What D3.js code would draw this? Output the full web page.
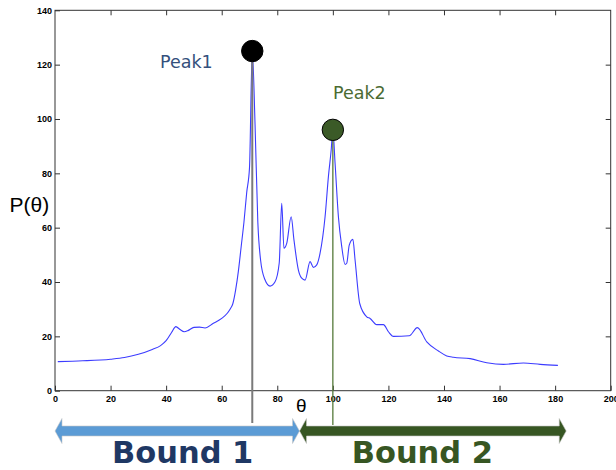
<!DOCTYPE html>
<html>
<head>
<meta charset="utf-8">
<script src="https://cdn.jsdelivr.net/npm/d3@7"></script>
<style>
  html, body { margin: 0; padding: 0; background: #fff; }
  svg { display: block; }
</style>
</head>
<body>
<script>
// Angular distribution P(θ) with its two dominant peaks and their bounds
const theta = [1, 10, 20, 25, 30, 35, 38, 40, 42, 43.5, 45, 46.5, 48, 50, 52, 54, 57, 60, 62, 63, 64, 65, 66, 67, 68, 69, 70, 71, 72, 73, 74, 75.5, 77.4, 79.2, 80.7, 81.6, 82.4, 83.4, 85, 86, 87.6, 88.8, 90, 91.8, 93, 94.2, 95.4, 97.2, 98.4, 99.4, 100, 100.8, 102, 103.2, 104.4, 105, 105.9, 107.2, 108, 109.7, 112.2, 113.4, 115.8, 118.2, 120, 121.8, 127.5, 130.4, 133.8, 138, 141, 143.4, 149.4, 155.4, 161.4, 168.6, 174.6, 181];
const pTheta = [10.7, 11.0, 11.6, 12.2, 13.4, 15.2, 16.6, 18.4, 21.5, 23.6, 22.5, 21.7, 22.2, 23.3, 23.4, 23.1, 24.8, 26.6, 28.5, 30, 32, 37, 44, 53, 62, 73, 82, 125, 98, 62, 48, 41, 38.5, 40.1, 47, 69, 52.4, 54.2, 64, 55.5, 44.4, 41.4, 40.7, 47.5, 45.4, 46.3, 50.6, 64, 78.8, 88.6, 96, 83.7, 64, 53, 46.5, 46.9, 53.6, 55.7, 48.1, 32, 27.2, 26.6, 24.3, 24.3, 21.7, 20, 20.2, 23.2, 18, 14.6, 12.8, 12.3, 11.8, 10.3, 9.7, 10.2, 9.7, 9.3];

const peakNames = ["Peak1", "Peak2"];
const peakTheta = [71, 100];
const peakValue = [125, 96];

const boundNames = ["Bound 1", "Bound 2"];
const boundEdges = [0, 88, 184];

const xTicks = [0, 20, 40, 60, 80, 100, 120, 140, 160, 180, 200];
const yTicks = [0, 20, 40, 60, 80, 100, 120, 140];

const W = 616, H = 470;
const plot = { left: 55, right: 610.7, top: 10.3, bottom: 390.7 };

const svg = d3.select("body").append("svg")
  .attr("width", W).attr("height", H);

const x = d3.scaleLinear().domain([0, 200]).range([plot.left, plot.right]);
const y = d3.scaleLinear().domain([0, 140]).range([plot.bottom, plot.top]);

const tickFont = "'Liberation Sans', Arial, sans-serif";

function styleAxis(g, labels) {
  g.select(".domain").remove();
  g.selectAll(".tick line").attr("stroke", "#333").attr("stroke-width", 1);
  g.selectAll(".tick text")
    .attr("fill", "#000")
    .style("font-family", tickFont)
    .style("font-size", "9px")
    .style("font-weight", "bold");
  if (!labels) g.selectAll(".tick text").remove();
}

// Inward ticks on all four sides
svg.append("g").attr("transform", `translate(0,${plot.bottom})`)
  .call(d3.axisBottom(x).tickValues(xTicks).tickFormat(d3.format("d")).tickSizeInner(-5).tickSizeOuter(0).tickPadding(5))
  .call(g => styleAxis(g, true));
svg.append("g").attr("transform", `translate(0,${plot.top})`)
  .call(d3.axisTop(x).tickValues(xTicks.slice(1, -1)).tickSizeInner(-5).tickSizeOuter(0))
  .call(g => styleAxis(g, false));
svg.append("g").attr("transform", `translate(${plot.left},0)`)
  .call(d3.axisLeft(y).tickValues(yTicks).tickFormat(d3.format("d")).tickSizeInner(-5).tickSizeOuter(0).tickPadding(3))
  .call(g => styleAxis(g, true));
svg.append("g").attr("transform", `translate(${plot.right},0)`)
  .call(d3.axisRight(y).tickValues(yTicks.slice(1, -1)).tickSizeInner(-5).tickSizeOuter(0))
  .call(g => styleAxis(g, false));

// Plot frame
svg.append("rect")
  .attr("x", plot.left).attr("y", plot.top)
  .attr("width", plot.right - plot.left).attr("height", plot.bottom - plot.top)
  .attr("fill", "none").attr("stroke", "#333").attr("stroke-width", 1);

// Distribution curve
const series = theta.map((t, i) => [t, pTheta[i]]);
svg.append("path")
  .datum(series)
  .attr("fill", "none")
  .attr("stroke", "#3c3cff")
  .attr("stroke-width", 1.1)
  .attr("d", d3.line().curve(d3.curveMonotoneX).x(d => x(d[0])).y(d => y(d[1])));

// Bound arrows under the axis
const arrowY = 431, shaftH = 10, headH = 25, headL = 7;
function arrowPath(x0, x1) {
  const s = shaftH / 2, h = headH / 2;
  return `M${x0},${arrowY} L${x0 + headL},${arrowY - h} L${x0 + headL},${arrowY - s}` +
    ` L${x1 - headL},${arrowY - s} L${x1 - headL},${arrowY - h} L${x1},${arrowY}` +
    ` L${x1 - headL},${arrowY + h} L${x1 - headL},${arrowY + s}` +
    ` L${x0 + headL},${arrowY + s} L${x0 + headL},${arrowY + h} Z`;
}
const boundColors = ["#5b9bd5", "#375623"];
const boundTextColors = ["#1f3864", "#375623"];

// Peak markers: drop lines first
const peakLineColors = ["#7a7a7a", "#557a3a"];
const peakLineWidths = [2, 1.3];
const peakLineEnds = [423, 425];
peakTheta.forEach((t, i) => {
  svg.append("line")
    .attr("x1", x(t)).attr("x2", x(t))
    .attr("y1", y(peakValue[i])).attr("y2", peakLineEnds[i])
    .attr("stroke", peakLineColors[i]).attr("stroke-width", peakLineWidths[i]);
});

boundNames.forEach((name, i) => {
  svg.append("path")
    .attr("d", arrowPath(x(boundEdges[i]), x(boundEdges[i + 1])))
    .attr("fill", boundColors[i])
    .attr("stroke", "#c8c8c8").attr("stroke-width", 0.6);
});

const boundTextX = [112, 351.7];
boundNames.forEach((name, i) => {
  svg.append("text")
    .attr("x", boundTextX[i]).attr("y", 463)
    .attr("fill", boundTextColors[i])
    .style("font-family", "'DejaVu Sans', Verdana, sans-serif")
    .style("font-weight", "bold")
    .style("font-size", "30.5px")
    .text(name);
});

const peakFill = ["#000000", "#3b5a27"];
const peakTextColors = ["#34507c", "#4b6b32"];
const peakTextPos = [[160, 67.5], [333, 98.5]];
peakTheta.forEach((t, i) => {
  svg.append("circle")
    .attr("cx", x(t)).attr("cy", y(peakValue[i])).attr("r", 10.7)
    .attr("fill", peakFill[i]).attr("stroke", "#000").attr("stroke-width", 1);
  svg.append("text")
    .attr("x", peakTextPos[i][0]).attr("y", peakTextPos[i][1])
    .attr("fill", peakTextColors[i])
    .style("font-family", "'DejaVu Sans', Verdana, sans-serif")
    .style("font-size", "17.5px")
    .text(peakNames[i]);
});

// Axis titles
svg.append("text")
  .attr("x", 9.5).attr("y", 212)
  .attr("fill", "#000")
  .style("font-family", tickFont)
  .style("font-size", "21px")
  .text("P(θ)");
svg.append("text")
  .attr("x", 296).attr("y", 411.5)
  .attr("fill", "#000")
  .style("font-family", tickFont)
  .style("font-size", "19px")
  .text("θ");
</script>
</body>
</html>
